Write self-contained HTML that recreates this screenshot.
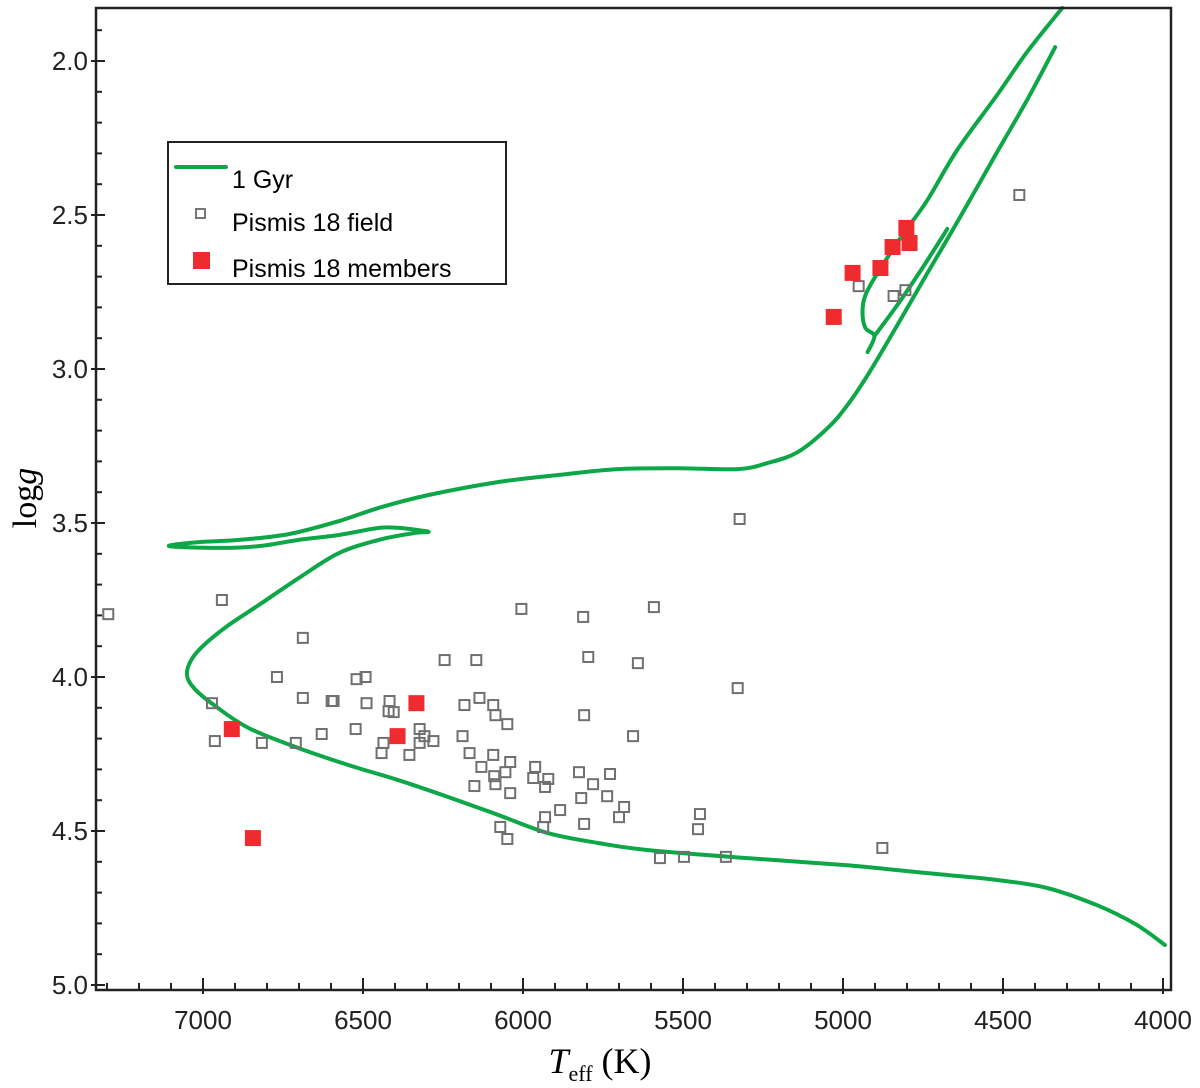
<!DOCTYPE html>
<html><head><meta charset="utf-8"><style>
body{margin:0;background:#fff}
svg{display:block}
text{font-family:"Liberation Sans",sans-serif}
</style></head><body>
<svg id="chart" width="1200" height="1088" viewBox="0 0 1200 1088" xmlns="http://www.w3.org/2000/svg">
<g id="plot"></g>
<g id="axes"></g>
<rect x="96" y="8" width="1075" height="982" fill="none" stroke="#222" stroke-width="2.5"/>
<g>
<rect x="168" y="142" width="338" height="142" fill="#fff" stroke="#222" stroke-width="2"/>
<line x1="176" y1="167" x2="226" y2="167" stroke="#0ea748" stroke-width="4" stroke-linecap="round"/>
<text x="232" y="188" font-size="25">1 Gyr</text>
<rect x="196" y="209" width="9" height="9" fill="#fff" stroke="#777" stroke-width="2"/>
<text x="232" y="231" font-size="25">Pismis 18 field</text>
<rect x="193" y="252" width="17" height="17" fill="#ee2b2e"/>
<text x="232" y="277" font-size="25">Pismis 18 members</text>
</g>
<text transform="translate(36,498) rotate(-90)" text-anchor="middle" font-size="34" style="font-family:'Liberation Serif',serif">log<tspan font-style="italic">g</tspan></text>
<text x="600" y="1073" text-anchor="middle" font-size="36" style="font-family:'Liberation Serif',serif"><tspan font-style="italic">T</tspan><tspan font-size="22" dy="8">eff</tspan><tspan dy="-8"> (K)</tspan></text>
</svg>
<script>
const isoMainT=[3994,4082,4206,4362,4518,4674,4830,4986,5298,5609,5765,5921,6077,6233,6389,6545,6701,6857,6966,7028,7050,7037,6997,6919,6825,6701,6576,6451,6342,6295,6327,6389,6451,6576,6701,6825,6950,7106,7012,6888,6732,6576,6451,6295,6077,5890,5703,5516,5329,5235,5142,5048,4986,4923,4830,4736,4643,4518,4425,4337];
const isoMainG=[4.870,4.805,4.741,4.685,4.659,4.643,4.627,4.611,4.588,4.562,4.539,4.507,4.448,4.390,4.335,4.286,4.231,4.166,4.091,4.036,3.994,3.945,3.896,3.831,3.766,3.679,3.598,3.555,3.533,3.529,3.523,3.516,3.516,3.539,3.555,3.575,3.581,3.575,3.562,3.555,3.536,3.494,3.451,3.409,3.367,3.344,3.325,3.322,3.325,3.305,3.270,3.192,3.117,3.020,2.857,2.688,2.523,2.295,2.127,1.955];
const isoLoopT=[4923,4902,4930,4939,4930,4892,4814,4736,4643,4518,4425,4315];
const isoLoopG=[2.945,2.893,2.867,2.815,2.760,2.688,2.565,2.451,2.289,2.110,1.971,1.828];
const isoInnerT=[4902,4830,4752,4674];
const isoInnerG=[2.893,2.792,2.672,2.545];
const fieldT=[7296,6941,6688,6769,6520,6492,6972,6688,6598,6592,6489,6417,6420,6404,6963,6816,6710,6629,6523,6323,6308,6436,6442,6323,6280,6355,6245,6146,5796,5641,5329,6183,6136,6093,6086,6049,5809,5656,6189,6167,6093,6040,6130,6055,6090,6086,6152,6040,5962,5968,5921,5931,5825,5728,5781,5818,5737,5884,5684,5700,5931,5937,5809,6071,6049,5447,5453,5572,5497,5366,5323,6005,5812,5591,4449,4951,4842,4805,4877];
const fieldG=[3.796,3.750,3.873,4.000,4.007,4.000,4.085,4.068,4.078,4.078,4.085,4.078,4.111,4.114,4.208,4.214,4.214,4.185,4.169,4.169,4.192,4.214,4.247,4.214,4.208,4.253,3.945,3.945,3.935,3.955,4.036,4.091,4.068,4.091,4.124,4.153,4.124,4.192,4.192,4.247,4.253,4.276,4.292,4.309,4.322,4.348,4.354,4.377,4.292,4.328,4.331,4.357,4.309,4.315,4.348,4.393,4.387,4.432,4.422,4.455,4.455,4.487,4.477,4.487,4.526,4.445,4.494,4.588,4.584,4.584,3.487,3.779,3.805,3.773,2.435,2.731,2.763,2.744,4.555];
const memberT=[6910,6844,6392,6333,5029,4970,4883,4845,4802,4792];
const memberG=[4.169,4.523,4.192,4.085,2.831,2.688,2.672,2.604,2.542,2.591];
const xTickLabels=["7000","6500","6000","5500","5000","4500","4000"];
const yTickLabels=["2.0","2.5","3.0","3.5","4.0","4.5","5.0"];

const NS="http://www.w3.org/2000/svg";
function xs(t){return 203+(7000-t)*0.32;}
function ys(g){return 61+(g-2)*308;}
function mk(tag,attrs,parent){const e=document.createElementNS(NS,tag);for(const k in attrs)e.setAttribute(k,attrs[k]);parent.appendChild(e);return e;}
const plot=document.getElementById('plot'), axes=document.getElementById('axes');

function line(T,G,name){
  const P=T.map((t,i)=>[xs(t),ys(G[i])]);
  let d='M'+P[0][0].toFixed(1)+','+P[0][1].toFixed(1);
  for(let i=0;i<P.length-1;i++){
    const p0=P[Math.max(0,i-1)],p1=P[i],p2=P[i+1],p3=P[Math.min(P.length-1,i+2)];
    const c1=[p1[0]+(p2[0]-p0[0])/6,p1[1]+(p2[1]-p0[1])/6];
    const c2=[p2[0]-(p3[0]-p1[0])/6,p2[1]-(p3[1]-p1[1])/6];
    d+=' C'+c1[0].toFixed(1)+','+c1[1].toFixed(1)+' '+c2[0].toFixed(1)+','+c2[1].toFixed(1)+' '+p2[0].toFixed(1)+','+p2[1].toFixed(1);
  }
  const p=mk('path',{d:d,fill:'none',stroke:'#0ea748','stroke-width':4,'stroke-linejoin':'round','stroke-linecap':'round'},plot);
  
  
}
line(isoMainT,isoMainG,'isochrone-main');
line(isoLoopT,isoLoopG,'isochrone-clump-loop');
line(isoInnerT,isoInnerG,'isochrone-inner');

fieldT.forEach((t,i)=>{
  const r=mk('rect',{x:xs(t)-5,y:ys(fieldG[i])-5,width:10,height:10,fill:'none',stroke:'#707070','stroke-width':2},plot);
  
  
});
memberT.forEach((t,i)=>{
  const r=mk('rect',{x:xs(t)-8,y:ys(memberG[i])-8,width:16,height:16,fill:'#ee2b2e'},plot);
  
  
});

for(let t=7300;t>=4000;t-=100){
  const major=t%500===0;
  const x=xs(t);
  const l=mk('line',{x1:x,x2:x,y1:major?978:983,y2:major?994:990,stroke:'#222','stroke-width':2},axes);
  
  
}
xTickLabels.forEach(s=>{
  const tx=mk('text',{x:xs(+s),y:1029,'text-anchor':'middle','font-size':26,fill:'#222'},axes);
  tx.textContent=s;
  
  
});
for(let k=19;k<=50;k++){
  const g=k/10, major=k%5===0, y=ys(g);
  const l=mk('line',{x1:major?91:96,x2:major?105:102,y1:y,y2:y,stroke:'#222','stroke-width':2},axes);
  
  
}
yTickLabels.forEach(s=>{
  const tx=mk('text',{x:88,y:ys(+s)+9,'text-anchor':'end','font-size':26,fill:'#222'},axes);
  tx.textContent=s;
  
  
});
</script>
</body></html>
